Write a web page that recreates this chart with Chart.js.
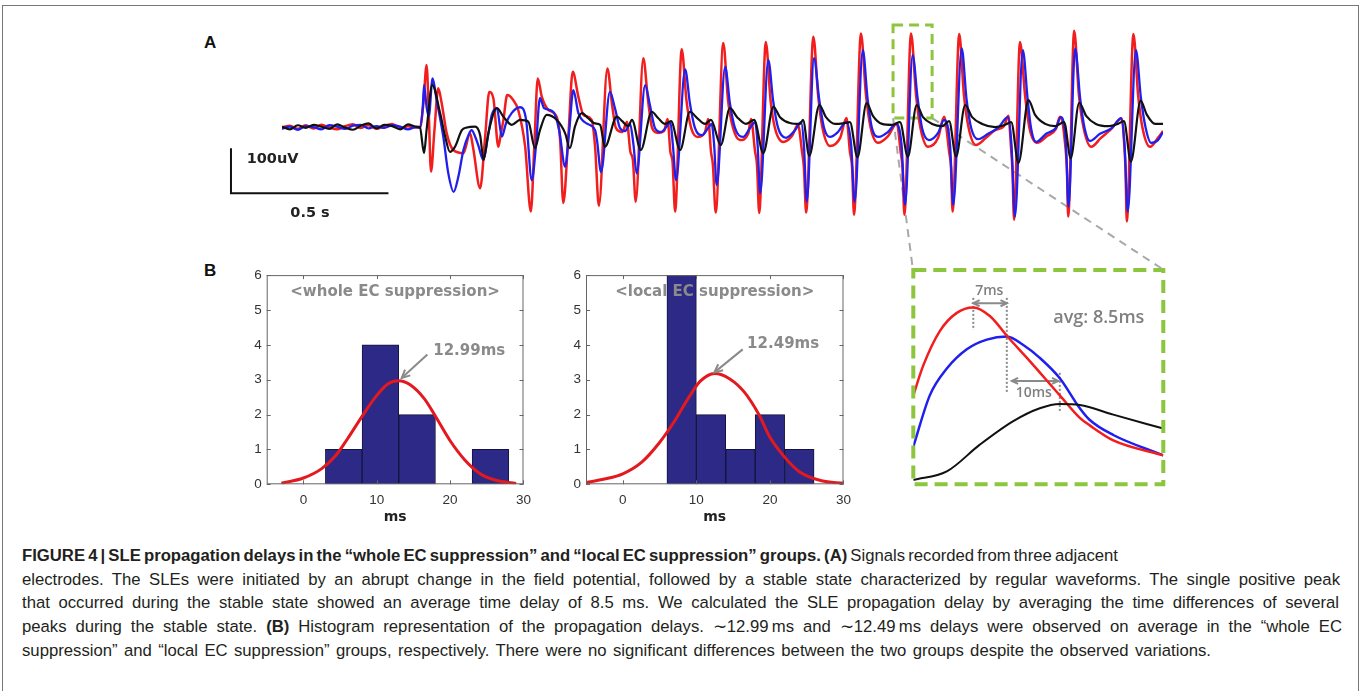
<!DOCTYPE html>
<html>
<head>
<meta charset="utf-8">
<script src="https://cdn.jsdelivr.net/npm/chart.js@4.4.1/dist/chart.umd.min.js"></script>
<style>
html, body { margin: 0; padding: 0; background: #fff; }
body { width: 1362px; height: 691px; position: relative; overflow: hidden; }
canvas { position: absolute; }
#frame { position: absolute; left: 2px; top: 5px; width: 1355px; height: 720px; border: 1px solid #777; }
.lbl { position: absolute; font: bold 17px "Liberation Sans", Arial, sans-serif; color: #111; line-height: 20px; }
.cap { position: absolute; left: 22px; white-space: nowrap; font: 16.8px "Liberation Sans", Arial, sans-serif; color: #231f20; line-height: 20px; transform-origin: 0 50%; }
</style>
</head>
<body>
<div id="frame"></div>
<div class="lbl" style="left:204px;top:33px">A</div>
<div class="lbl" style="left:204px;top:261px">B</div>

<canvas id="trace" width="975" height="262" style="left:195px;top:10px"></canvas>
<canvas id="histWhole" width="327" height="270" style="left:212px;top:262px"></canvas>
<canvas id="histLocal" width="328" height="270" style="left:531px;top:262px"></canvas>
<canvas id="zoomPeak" width="268" height="230" style="left:905px;top:262px"></canvas>

<div class="cap" data-w="1096" data-j="0" style="top:546px"><b>FIGURE 4 | SLE propagation delays in the “whole EC suppression” and “local EC suppression” groups. (A)</b> Signals recorded from three adjacent</div>
<div class="cap" data-w="1318" data-j="1" style="top:570px">electrodes. The SLEs were initiated by an abrupt change in the field potential, followed by a stable state characterized by regular waveforms. The single positive peak</div>
<div class="cap" data-w="1317" data-j="1" style="top:593px">that occurred during the stable state showed an average time delay of 8.5 ms. We calculated the SLE propagation delay by averaging the time differences of several</div>
<div class="cap" data-w="1320" data-j="1" style="top:617px">peaks during the stable state. <b>(B)</b> Histogram representation of the propagation delays. ∼12.99&#8201;ms and ∼12.49&#8201;ms delays were observed on average in the “whole EC</div>
<div class="cap" data-w="1189" data-j="0" style="top:641px">suppression” and “local EC suppression” groups, respectively. There were no significant differences between the two groups despite the observed variations.</div>

<script>
// ---- panel A: field potentials, time in ms, amplitude in uV ----
const redT = [0,25,50,75,100,125,150,175,200,225,250,275,300,325,350,375,400,425,
  438,449,459,466,473,484,496,507,523,544,576,597,607,629,645,658,671,687,694,703,715,734,750,772,790,801,812,825,846,872,883,893,909,923,941,957,983,994,
  1006,1033,1048,1060,1080,
  1095,1106,1114,1123,1147,1162,1175,1194,1213,1224,
  1233,1240,1248,1269,1284,1299,1321,1343,1353,
  1362,1368,1377,1401,1416,1432,1454,1480,1489,
  1502,1508,1515,1536,1551,1565,1591,1619,1638,
  1651,1657,1664,1687,1702,1716,1740,1772,1792,
  1803,1810,1816,1838,1854,1869,1892,1924,1952,
  1964,1970,1976,1997,2013,2027,2051,2083,2102,
  2118,2124,2129,2150,2165,2180,2203,2235,2264,2292,2306,
  2315,2319,2324,2343,2359,2373,2397,2429,2457,2470,
  2488,2492,2496,2515,2530,2545,2569,2600,2629,2666,
  2675,2678,2682,2703,2718,2732,2756,2781,2797];
const redV = [0,4,-3,5,-2,6,0,-4,3,7,-1,5,-3,4,8,-2,3,0,
  0,54,139,32,-98,-6,87,54,-13,-50,-57,-13,-46,-135,-20,79,65,-43,-17,17,72,61,39,-43,-187,-43,109,68,39,24,-28,-168,-20,124,68,28,17,-43,
  -174,131,50,-1,-10,
  12,-54,-72,-165,154,61,-1,-12,-8,19,
  -54,-77,-187,174,61,-1,-21,-10,19,
  -54,-83,-189,188,61,-1,-28,-14,19,
  -54,-83,-190,190,61,-1,-32,-19,6,
  -54,-90,-189,202,72,-1,-41,-23,21,
  -54,-90,-194,209,72,-1,-34,-19,9,
  -54,-90,-194,209,72,-1,-43,-23,24,
  -54,-90,-187,208,72,-1,-39,-23,-6,3,26,
  -50,-94,-205,190,72,-1,-34,-19,-3,24,
  -50,-94,-198,215,72,-1,-43,-23,-6,20,
  -50,-94,-209,208,72,-1,-43,-23,-8];

const blueT = [0,25,50,75,100,125,150,175,200,225,250,275,300,325,350,375,400,425,
  438,447,451,459,466,478,491,512,528,545,560,576,592,602,613,623,639,652,666,682,698,711,729,756,775,793,806,819,832,861,880,899,912,925,941,967,994,
  1000,1013,1041,1057,1073,1089,
  1105,1116,1126,1153,1168,1184,1203,1222,
  1233,1241,1251,1280,1295,1311,1334,1353,
  1364,1372,1380,1407,1422,1438,1464,1486,
  1502,1510,1518,1544,1559,1575,1600,1629,
  1648,1657,1666,1689,1705,1721,1740,1765,1791,
  1807,1818,1844,1859,1873,1895,1924,1949,
  1967,1978,2002,2018,2032,2054,2083,2102,
  2121,2131,2158,2173,2188,2210,2242,2273,2305,
  2316,2327,2352,2367,2378,2394,2426,2457,2473,
  2489,2497,2518,2534,2548,2565,2597,2635,2664,
  2675,2685,2711,2727,2742,2759,2781,2797];
const blueV = [-3,2,-5,3,1,-4,5,2,-3,4,6,-2,3,-1,5,2,-4,1,
  0,46,94,46,24,109,61,-20,-102,-143,-109,-50,-17,-6,-20,-39,-72,-28,28,43,-20,9,32,45,17,-117,-43,65,43,35,-6,-87,-6,83,32,9,-6,
  -28,-99,79,43,-1,-8,
  8,-39,-102,94,50,-1,-10,3,
  12,-39,-117,129,54,-1,-17,-1,
  8,-39,-128,135,54,-1,-21,-1,
  12,-39,-146,150,61,-1,-23,-6,
  12,-39,-165,154,65,-1,-21,-10,12,
  -39,-165,172,65,-1,-21,-10,8,
  -39,-172,161,65,-1,-28,-12,17,
  -39,-172,176,65,-1,-26,-14,-1,23,
  -39,-198,172,65,-1,-32,-14,-1,23,
  -39,-176,176,65,-1,-30,-14,-1,21,
  -39,-187,172,65,-1,-34,-28,-10];

const blackT = [0,25,50,75,100,125,150,175,200,225,250,275,300,325,350,375,400,425,
  438,451,459,477,502,518,533,549,571,587,613,629,640,655,682,703,729,756,782,803,819,840,872,899,914,930,952,973,994,
  1010,1025,1063,1080,1099,1111,
  1139,1174,1194,1216,1235,
  1264,1295,1318,1343,1362,
  1393,1422,1445,1473,1499,
  1528,1560,1581,1613,1645,
  1654,1674,1706,1727,1756,1787,1803,
  1827,1856,1876,1905,1937,1962,
  1987,2015,2035,2064,2096,2118,
  2140,2169,2191,2223,2264,2296,2315,
  2338,2370,2391,2423,2454,2483,
  2504,2531,2553,2584,2623,2654,2673,
  2695,2726,2746,2772,2797];
const blackV = [2,-4,5,-1,6,2,-3,7,0,-5,4,9,-2,6,3,-4,7,2,
  0,-57,-6,94,32,-20,-54,-43,-6,0,2,-17,-72,-13,43,24,6,17,13,-46,-6,28,17,-13,-46,2,32,20,9,
  6,-43,24,14,3,17,
  -50,35,21,8,14,
  -50,35,21,8,17,
  -39,43,23,8,17,
  -57,46,23,10,8,
  17,-63,50,23,8,10,12,
  -66,54,26,8,6,12,
  -65,50,23,8,3,14,
  -65,50,23,8,1,6,12,
  -79,61,28,8,3,12,
  -68,55,26,8,3,8,14,
  -76,59,28,8,8];

// ---- panel B: histograms of delays (ms) with fitted curves ----
const wholeBinCenters = [5.5, 10.5, 15.5, 20.5, 25.5];
const wholeCounts = [1, 4, 2, 0, 1];
const wholeFitX = [-3, 0, 2.5, 4.5, 6, 8, 10, 11.5, 13, 14.5, 16.5, 18, 20, 22, 24, 26, 29];
const wholeFitY = [0.03, 0.18, 0.45, 0.85, 1.3, 1.95, 2.55, 2.88, 2.97, 2.86, 2.45, 1.95, 1.25, 0.7, 0.32, 0.13, 0.02];

const localBinCenters = [8, 12, 16, 20, 24];
const localCounts = [6, 2, 1, 2, 1];
const localFitX = [-5, -2.5, 0, 2.5, 5, 7, 9, 10.5, 12.5, 14.5, 16.5, 18.5, 20, 22, 24, 27, 30];
const localFitY = [0.05, 0.15, 0.3, 0.62, 1.2, 1.8, 2.5, 2.95, 3.18, 3.03, 2.65, 2.0, 1.35, 0.78, 0.36, 0.1, 0.03];

// ---- zoomed single peak (ms, uV) ----
const peakRedT = [0, 2, 5.3, 8.7, 12, 15.3, 19, 23.3, 29.3, 33.3, 35.3, 40, 50];
const peakRedV = [83, 111, 143, 160, 165, 157, 137, 115, 83, 62, 55, 41, 27];
const peakBlueT = [0, 3.3, 6.7, 10.7, 14.7, 18.7, 22, 25.3, 29.3, 33.3, 35.3, 40, 50];
const peakBlueV = [35, 83, 108, 126, 135, 138, 130, 118, 99, 71, 60, 46, 27];
const peakBlackT = [0, 6.7, 13.3, 20, 25.3, 29.3, 33.3, 40, 50];
const peakBlackV = [4, 12, 37, 59, 71, 75, 74, 65, 52];

const zip = (xs, ys) => xs.map((x, i) => ({ x: x, y: ys[i] }));

Chart.defaults.font.family = '"Liberation Sans", Arial, sans-serif';
Chart.defaults.animation = false;
Chart.defaults.responsive = false;
Chart.defaults.devicePixelRatio = 1;
Chart.defaults.events = [];
Chart.defaults.plugins.legend.display = false;
Chart.defaults.plugins.tooltip.enabled = false;

function arrowHead(ctx, x, y, ang, len) {
  ctx.beginPath();
  ctx.moveTo(x - len * Math.cos(ang - 0.45), y - len * Math.sin(ang - 0.45));
  ctx.lineTo(x, y);
  ctx.lineTo(x - len * Math.cos(ang + 0.45), y - len * Math.sin(ang + 0.45));
  ctx.stroke();
}

const traceDeco = {
  id: 'traceDeco',
  beforeDatasetsDraw(chart, args, o) {
    const { ctx, scales: { x, y } } = chart;
    ctx.save();
    ctx.strokeStyle = '#a8a8a8';
    ctx.lineWidth = 2;
    ctx.setLineDash([8, 6]);
    o.links.forEach(l => {
      ctx.beginPath();
      ctx.moveTo(x.getPixelForValue(l[0]), y.getPixelForValue(l[1]));
      ctx.lineTo(x.getPixelForValue(l[2]), y.getPixelForValue(l[3]));
      ctx.stroke();
    });
    const b = o.box;
    const bx = x.getPixelForValue(b[0]), by = y.getPixelForValue(b[3]);
    ctx.strokeStyle = '#8cc63f';
    ctx.lineWidth = 3;
    ctx.setLineDash([10, 6]);
    ctx.strokeRect(bx, by, x.getPixelForValue(b[1]) - bx, y.getPixelForValue(b[2]) - by);
    ctx.restore();
  },
  afterDraw(chart, args, o) {
    const { ctx, scales: { x, y } } = chart;
    const s = o.scaleBar;
    const cx = x.getPixelForValue(s.t), cy = y.getPixelForValue(s.v);
    const w = x.getPixelForValue(s.t + s.ms) - cx;
    const h = cy - y.getPixelForValue(s.v + s.uv);
    ctx.save();
    ctx.strokeStyle = '#111';
    ctx.lineWidth = 2;
    ctx.beginPath();
    ctx.moveTo(cx, cy - h);
    ctx.lineTo(cx, cy);
    ctx.lineTo(cx + w, cy);
    ctx.stroke();
    ctx.font = 'bold 14.5px "DejaVu Sans"';
    ctx.fillStyle = '#222';
    ctx.textAlign = 'center';
    ctx.textBaseline = 'middle';
    ctx.fillText('100uV', x.getPixelForValue(-30), y.getPixelForValue(-71));
    ctx.fillText('0.5 s', x.getPixelForValue(89), y.getPixelForValue(-190));
    ctx.restore();
  }
};

new Chart(document.getElementById('trace'), {
  type: 'line',
  data: {
    datasets: [
      { label: 'electrode 3', data: zip(blackT, blackV), borderColor: '#111111', borderWidth: 2.2, order: 1 },
      { label: 'electrode 2', data: zip(blueT, blueV), borderColor: '#1f1fee', borderWidth: 2.3, order: 2 },
      { label: 'electrode 1', data: zip(redT, redV), borderColor: '#f21d1d', borderWidth: 2.5, order: 3 }
    ]
  },
  options: {
    layout: { padding: { left: 87, right: 7, top: 10, bottom: 37 } },
    elements: { point: { radius: 0 }, line: { cubicInterpolationMode: 'monotone' } },
    plugins: {
      traceDeco: {
        box: [1940, 2064, 21, 228],
        links: [[1940, 21, 2003, -316], [2064, 21, 2798, -316]],
        scaleBar: { t: -162, v: -146, ms: 500, uv: 100 }
      }
    },
    scales: {
      x: { type: 'linear', display: false, min: 0, max: 2797 },
      y: { display: false, min: -239, max: 239 }
    }
  },
  plugins: [traceDeco]
});

const histDeco = {
  id: 'histDeco',
  afterDatasetsDraw(chart, args, o) {
    const { ctx, chartArea: a, scales: { x, y } } = chart;
    ctx.save();
    ctx.strokeStyle = '#666';
    ctx.lineWidth = 1;
    ctx.strokeRect(a.left + 0.5, a.top + 0.5, a.right - a.left - 1, a.bottom - a.top - 1);
    ctx.beginPath();
    x.ticks.forEach(t => {
      const px = Math.round(x.getPixelForValue(t.value)) + 0.5;
      ctx.moveTo(px, a.bottom); ctx.lineTo(px, a.bottom - 4);
      ctx.moveTo(px, a.top); ctx.lineTo(px, a.top + 4);
    });
    y.ticks.forEach(t => {
      const py = Math.round(y.getPixelForValue(t.value)) + 0.5;
      ctx.moveTo(a.left, py); ctx.lineTo(a.left + 4, py);
      ctx.moveTo(a.right, py); ctx.lineTo(a.right - 4, py);
    });
    ctx.stroke();
    ctx.fillStyle = '#8a8a8a';
    ctx.font = 'bold 15px "DejaVu Sans"';
    ctx.textAlign = 'center';
    ctx.textBaseline = 'middle';
    ctx.fillText(o.title, (a.left + a.right) / 2, a.top + 17);
    ctx.textAlign = 'left';
    ctx.fillText(o.text, x.getPixelForValue(o.tx), y.getPixelForValue(o.ty));
    const r = o.arrow;
    const x0 = x.getPixelForValue(r[0]), y0 = y.getPixelForValue(r[1]);
    const x1 = x.getPixelForValue(r[2]), y1 = y.getPixelForValue(r[3]);
    ctx.strokeStyle = '#8a8a8a';
    ctx.lineWidth = 2;
    ctx.beginPath(); ctx.moveTo(x0, y0); ctx.lineTo(x1, y1); ctx.stroke();
    arrowHead(ctx, x1, y1, Math.atan2(y1 - y0, x1 - x0), 9);
    ctx.restore();
  }
};

function histChart(id, centers, counts, fitX, fitY, yAxisWidth, note) {
  return new Chart(document.getElementById(id), {
    type: 'bar',
    data: {
      datasets: [
        { type: 'line', label: 'normal fit', data: zip(fitX, fitY), borderColor: '#e3191f', borderWidth: 3,
          pointRadius: 0, cubicInterpolationMode: 'monotone', order: 1 },
        { type: 'bar', label: 'count', data: zip(centers, counts), backgroundColor: '#2c2a86', borderColor: '#14133d',
          borderWidth: 1, barPercentage: 1, categoryPercentage: 1, order: 2 }
      ]
    },
    options: {
      layout: { padding: { left: 0, right: 12, top: 9, bottom: 0 } },
      plugins: { histDeco: note },
      scales: {
        x: {
          type: 'linear', min: -5, max: 30, offset: false,
          grid: { display: false, drawTicks: false }, border: { display: false },
          ticks: { stepSize: 10, padding: 8, color: '#333', font: { size: 13.5 } },
          afterBuildTicks: s => { s.ticks = s.ticks.filter(t => t.value % 10 === 0); },
          afterFit: s => { s.height = 47.7; },
          title: { display: true, text: 'ms', color: '#222', font: { size: 14, weight: 'bold', family: '"DejaVu Sans"' }, padding: { top: 0, bottom: 6 } }
        },
        y: {
          min: 0, max: 6,
          grid: { display: false, drawTicks: false }, border: { display: false },
          ticks: { stepSize: 1, padding: 5, color: '#333', font: { size: 13.5 } },
          afterFit: s => { s.width = yAxisWidth; }
        }
      }
    },
    plugins: [histDeco]
  });
}

histChart('histWhole', wholeBinCenters, wholeCounts, wholeFitX, wholeFitY, 54.7,
  { title: '<whole EC suppression>', text: '12.99ms', tx: 17.7, ty: 3.81, arrow: [16.9, 3.72, 13.4, 3.05] });
histChart('histLocal', localBinCenters, localCounts, localFitX, localFitY, 55,
  { title: '<local EC suppression>', text: '12.49ms', tx: 16.9, ty: 4.01, arrow: [16.3, 3.87, 12.45, 3.21] });

const zoomDeco = {
  id: 'zoomDeco',
  beforeDatasetsDraw(chart, args, o) {
    const { ctx, scales: { x, y } } = chart;
    ctx.save();
    ctx.strokeStyle = '#8a8a8a';
    ctx.lineWidth = 2;
    ctx.setLineDash([2, 2]);
    o.marks.forEach(m => {
      const px = x.getPixelForValue(m[0]);
      ctx.beginPath(); ctx.moveTo(px, y.getPixelForValue(m[1])); ctx.lineTo(px, y.getPixelForValue(m[2])); ctx.stroke();
    });
    ctx.setLineDash([]);
    o.spans.forEach(s => {
      const x0 = x.getPixelForValue(s[0]), x1 = x.getPixelForValue(s[1]), py = y.getPixelForValue(s[2]);
      ctx.beginPath(); ctx.moveTo(x0, py); ctx.lineTo(x1, py); ctx.stroke();
      arrowHead(ctx, x1, py, 0, 7);
      arrowHead(ctx, x0, py, Math.PI, 7);
    });
    ctx.fillStyle = '#808080';
    ctx.textAlign = 'center';
    ctx.textBaseline = 'middle';
    o.labels.forEach(l => {
      ctx.font = l[3];
      ctx.fillText(l[0], x.getPixelForValue(l[1]), y.getPixelForValue(l[2]));
    });
    ctx.restore();
  },
  afterDatasetsDraw(chart) {
    const { ctx, chartArea: a } = chart;
    ctx.save();
    ctx.strokeStyle = '#8cc63f';
    ctx.lineWidth = 4;
    ctx.setLineDash([13, 7]);
    ctx.strokeRect(a.left, a.top, a.right - a.left, a.bottom - a.top);
    ctx.restore();
  }
};

new Chart(document.getElementById('zoomPeak'), {
  type: 'line',
  data: {
    datasets: [
      { label: 'electrode 3', data: zip(peakBlackT, peakBlackV), borderColor: '#111111', borderWidth: 2 },
      { label: 'electrode 1', data: zip(peakRedT, peakRedV), borderColor: '#f21d1d', borderWidth: 2.5 },
      { label: 'electrode 2', data: zip(peakBlueT, peakBlueV), borderColor: '#1f1fee', borderWidth: 2.5 }
    ]
  },
  options: {
    layout: { padding: { left: 8.3, right: 9.7, top: 8, bottom: 7.7 } },
    elements: { point: { radius: 0 }, line: { cubicInterpolationMode: 'monotone' } },
    plugins: {
      zoomDeco: {
        marks: [[12, 174, 144], [18.7, 174, 85], [29.3, 104, 67]],
        spans: [[12, 18.7, 169], [19.7, 29, 96.5]],
        labels: [['7ms', 15.2, 180, '600 14px "Open Sans"'], ['10ms', 24.1, 85, '600 14px "Open Sans"'],
                 ['avg: 8.5ms', 37.1, 155, '600 18px "Open Sans"']]
      }
    },
    scales: {
      x: { type: 'linear', display: false, min: 0, max: 50 },
      y: { display: false, min: 0, max: 200 }
    }
  },
  plugins: [zoomDeco]
});

// caption: squeeze glyphs to the reference width, justify the middle lines
const caps = Array.from(document.querySelectorAll('.cap'));
const plain = caps.filter(el => el.dataset.j === '0');
const squeeze = plain.reduce((s, el) => s + (+el.dataset.w) / el.getBoundingClientRect().width, 0) / plain.length;
caps.forEach(el => {
  const target = +el.dataset.w / squeeze;
  const n = (el.textContent.match(/ /g) || []).length;
  el.style.wordSpacing = ((target - el.getBoundingClientRect().width) / n) + 'px';
  el.style.transform = 'scaleX(' + squeeze + ')';
});
</script>
</body>
</html>
